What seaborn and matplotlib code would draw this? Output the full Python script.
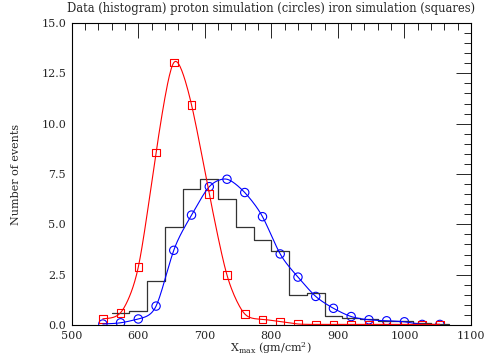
import numpy as np
import pandas as pd
import matplotlib
matplotlib.use("Agg")
from matplotlib import pyplot as plt
from matplotlib.ticker import MultipleLocator, FormatStrFormatter
import seaborn as sns

# centres of the simulation points (gm/cm^2)
xmax_sim = [546.7, 573.3, 600.0, 626.7, 653.3, 680.0, 706.7, 733.3, 760.0, 786.7,
            813.3, 840.0, 866.7, 893.3, 920.0, 946.7, 973.3, 1000.0, 1026.7, 1053.3]
proton = [0.05, 0.11, 0.30, 0.94, 3.71, 5.46, 6.87, 7.24, 6.58, 5.38,
          3.53, 2.38, 1.42, 0.83, 0.42, 0.26, 0.21, 0.16, 0.03, 0.03]
iron = [0.31, 0.61, 2.88, 8.56, 13.03, 10.94, 6.52, 2.48, 0.55, 0.28,
        0.17, 0.05, 0.03, 0.03, 0.03, 0.03, 0.03, 0.03, 0.03, 0.03]

# data histogram
hist_edges = [560.0, 586.7, 613.3, 640.0, 666.7, 693.3, 720.0, 746.7, 773.3, 800.0,
              826.7, 853.3, 880.0, 906.7, 933.3, 960.0, 986.7, 1013.3, 1040.0, 1066.7]
hist_counts = [0.58, 0.72, 2.21, 4.85, 6.76, 7.24, 6.24, 4.85, 4.22, 3.66,
               1.49, 1.57, 0.45, 0.33, 0.30, 0.18, 0.22, 0.10, 0.05]


def spline(x, y, sigma=3.0, n=20):
    # spline under tension, only used to draw the smooth line through the points
    x = np.asarray(x, float)
    y = np.asarray(y, float)
    m = len(x)
    h = np.diff(x)
    tau = sigma / h.mean()
    A = np.zeros((m, m))
    b = np.zeros(m)
    A[0, 0] = A[-1, -1] = 1
    for i in range(1, m - 1):
        h0, h1 = h[i - 1], h[i]
        A[i, i - 1] = 1 / h0 - tau / np.sinh(tau * h0)
        A[i, i] = tau / np.tanh(tau * h0) - 1 / h0 + tau / np.tanh(tau * h1) - 1 / h1
        A[i, i + 1] = 1 / h1 - tau / np.sinh(tau * h1)
        b[i] = tau ** 2 * ((y[i + 1] - y[i]) / h1 - (y[i] - y[i - 1]) / h0)
    z = np.linalg.solve(A, b)
    xs, ys = [], []
    for i in range(m - 1):
        hi = h[i]
        t = np.linspace(x[i], x[i + 1], n, endpoint=False)
        a = x[i + 1] - t
        c = t - x[i]
        s = (z[i] * np.sinh(tau * a) + z[i + 1] * np.sinh(tau * c)) / (tau ** 2 * np.sinh(tau * hi)) \
            + (y[i] - z[i] / tau ** 2) * a / hi + (y[i + 1] - z[i + 1] / tau ** 2) * c / hi
        xs.extend(t)
        ys.extend(s)
    xs.append(x[-1])
    ys.append(y[-1])
    return pd.DataFrame({"x": xs, "y": ys})


sns.set_style("white")
plt.rcParams['font.family'] = ['DejaVu Serif']
plt.rcParams['mathtext.fontset'] = 'dejavuserif'

fig = plt.figure(figsize=(4.85, 3.57), dpi=100)
ax = fig.add_axes([0.148, 0.0896, 0.823, 0.846])

centres = [(hist_edges[i] + hist_edges[i + 1]) / 2 for i in range(len(hist_counts))]
sns.histplot(x=centres, weights=hist_counts, bins=hist_edges, element="step",
             fill=False, color="#333333", linewidth=0.9, ax=ax)

p_line = spline(xmax_sim, proton)
f_line = spline(xmax_sim, iron)
sns.lineplot(data=p_line, x="x", y="y", color="blue", linewidth=0.8, sort=False,
             estimator=None, ax=ax)
sns.lineplot(data=f_line, x="x", y="y", color="red", linewidth=0.8, sort=False,
             estimator=None, ax=ax)
sns.scatterplot(x=xmax_sim, y=proton, marker="o", s=36, facecolors="none",
                edgecolor="blue", linewidth=0.8, ax=ax)
sns.scatterplot(x=xmax_sim, y=iron, marker="s", s=30, facecolors="none",
                edgecolor="red", linewidth=0.8, ax=ax)

ax.set_xlim(500, 1100)
ax.set_ylim(0, 15)
ax.xaxis.set_major_locator(MultipleLocator(100))
ax.xaxis.set_minor_locator(MultipleLocator(20))
ax.yaxis.set_major_locator(MultipleLocator(2.5))
ax.yaxis.set_minor_locator(MultipleLocator(0.5))
ax.yaxis.set_major_formatter(FormatStrFormatter('%.1f'))
ax.tick_params(which="both", direction="in", top=True, right=True,
               labelsize=8, width=0.7, pad=4)
ax.tick_params(which="major", length=11)
ax.tick_params(which="minor", length=5)
for s in ax.spines.values():
    s.set_linewidth(0.8)
    s.set_color("black")

ax.set_title("Data (histogram) proton simulation (circles) iron simulation (squares)",
             fontsize=8.3, pad=8)
ax.set_xlabel(r"X$_{\rm max}$ (gm/cm$^{2}$)", fontsize=8, labelpad=0)
ax.set_ylabel("Number of events", fontsize=8, labelpad=15)

fig.savefig("out.png", dpi=100)
